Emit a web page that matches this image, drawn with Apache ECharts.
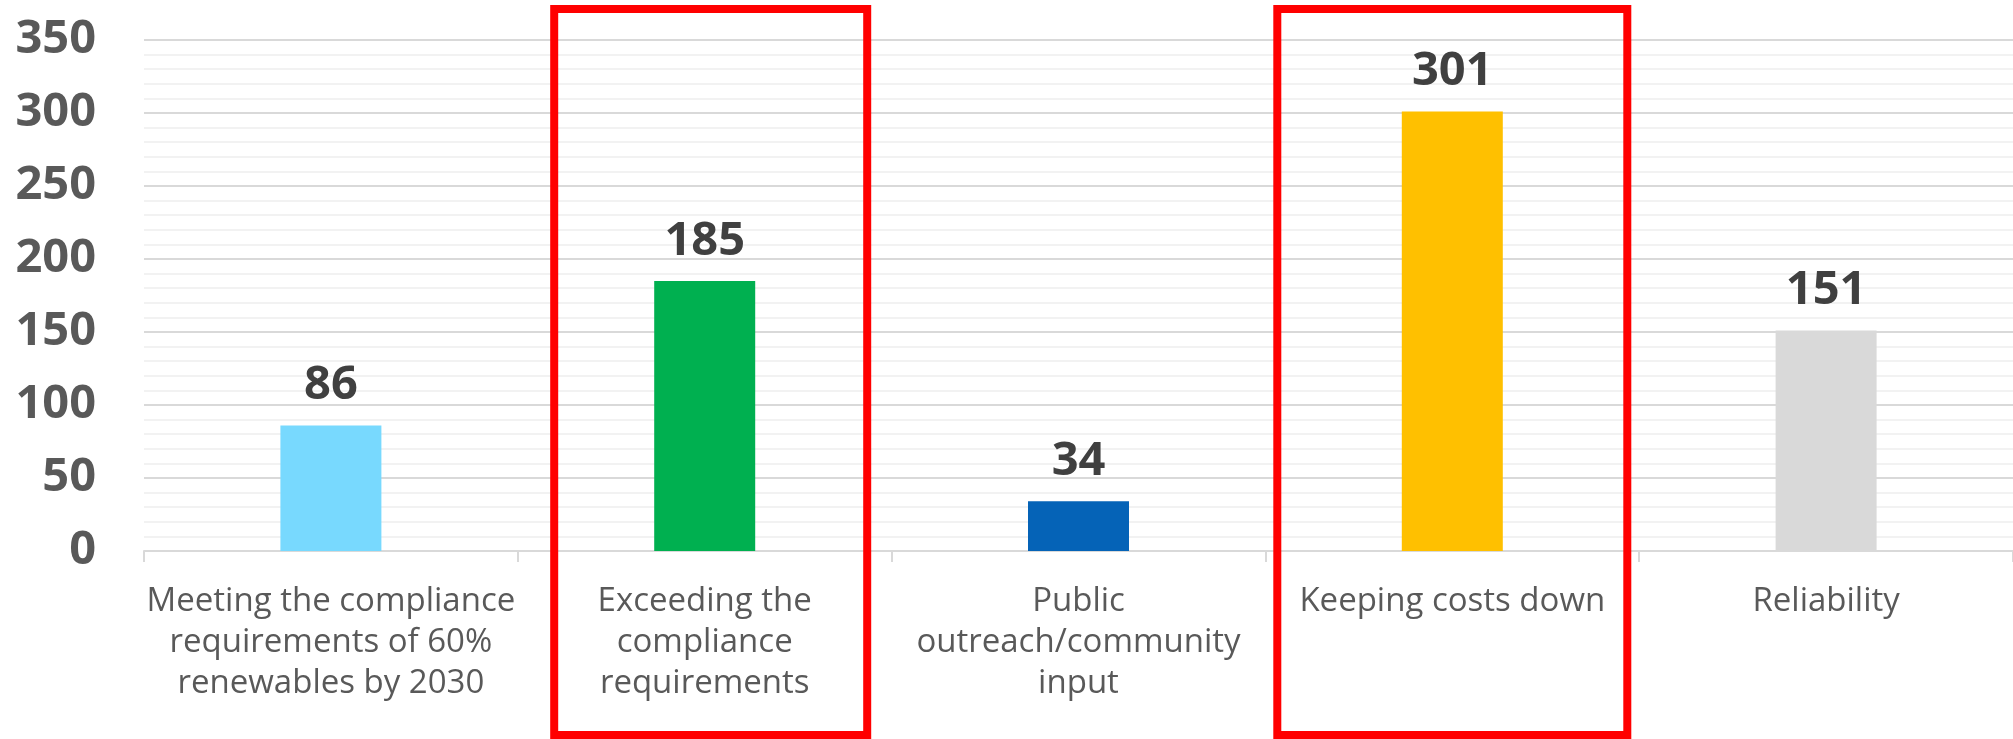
<!DOCTYPE html>
<html>
<head>
<meta charset="utf-8">
<script src="https://cdn.jsdelivr.net/npm/echarts@6/dist/echarts.min.js"></script>
<style>
  html, body { margin: 0; padding: 0; background: #fff; }
  #chart { width: 2013px; height: 739px; }
</style>
</head>
<body>
<div id="chart"></div>
<script>
  // categories and counts
  const categories = [
    'Meeting the compliance\nrequirements of 60%\nrenewables by 2030',
    'Exceeding the\ncompliance\nrequirements',
    'Public\noutreach/community\ninput',
    'Keeping costs down',
    'Reliability'
  ];
  const values = [86, 185, 34, 301, 151];
  const yTicks = [0, 50, 100, 150, 200, 250, 300, 350];

  // highlighted categories (red frames)
  const highlighted = [1, 3];

  // styling
  const barColors = ['#78D9FE', '#00B050', '#0563B7', '#FFC000', '#D9D9D9'];
  const frameWidths = [313, 350];
  const frameShift = [6, 0];

  const chart = echarts.init(document.getElementById('chart'));

  const option = {
    animation: false,
    backgroundColor: '#fff',
    grid: {
      left: 144,
      right: 0,
      top: 40,
      bottom: 188,
      containLabel: false
    },
    xAxis: {
      type: 'category',
      data: categories,
      axisLine: { show: true, lineStyle: { color: '#D9D9D9', width: 2 } },
      axisTick: { show: true, length: 11, lineStyle: { color: '#D9D9D9', width: 2 } },
      axisLabel: {
        interval: 0,
        margin: 30,
        fontFamily: 'Open Sans',
        fontSize: 33,
        lineHeight: 41,
        color: '#595959'
      },
      splitLine: { show: false }
    },
    yAxis: {
      type: 'value',
      min: yTicks[0],
      max: yTicks[yTicks.length - 1],
      interval: yTicks[1] - yTicks[0],
      axisLine: { show: false },
      axisTick: { show: false },
      axisLabel: {
        margin: 48,
        fontFamily: 'Open Sans',
        fontWeight: 'bold',
        fontSize: 47,
        color: '#595959'
      },
      splitLine: { show: true, lineStyle: { color: '#D9D9D9', width: 2 } },
      minorTick: { show: false, splitNumber: 5 },
      minorSplitLine: { show: true, lineStyle: { color: '#F2F2F2', width: 2 } }
    },
    series: [
      {
        type: 'bar',
        barWidth: 101,
        data: values.map((v, i) => ({ value: v, itemStyle: { color: barColors[i] } })),
        label: {
          show: true,
          position: 'top',
          distance: 16,
          fontFamily: 'Open Sans',
          fontWeight: 'bold',
          fontSize: 47,
          color: '#404040'
        }
      }
    ]
  };

  chart.setOption(option);

  // red frames drawn around the highlighted categories
  const frames = highlighted.map((idx, k) => {
    const cx = chart.convertToPixel({ xAxisIndex: 0 }, idx) + frameShift[k];
    const w = frameWidths[k];
    return {
      type: 'rect',
      shape: { x: cx - w / 2, y: 9, width: w, height: 726 },
      style: { fill: 'none', stroke: '#FF0000', lineWidth: 8 },
      z: 100
    };
  });
  chart.setOption({ graphic: frames });
</script>
</body>
</html>
